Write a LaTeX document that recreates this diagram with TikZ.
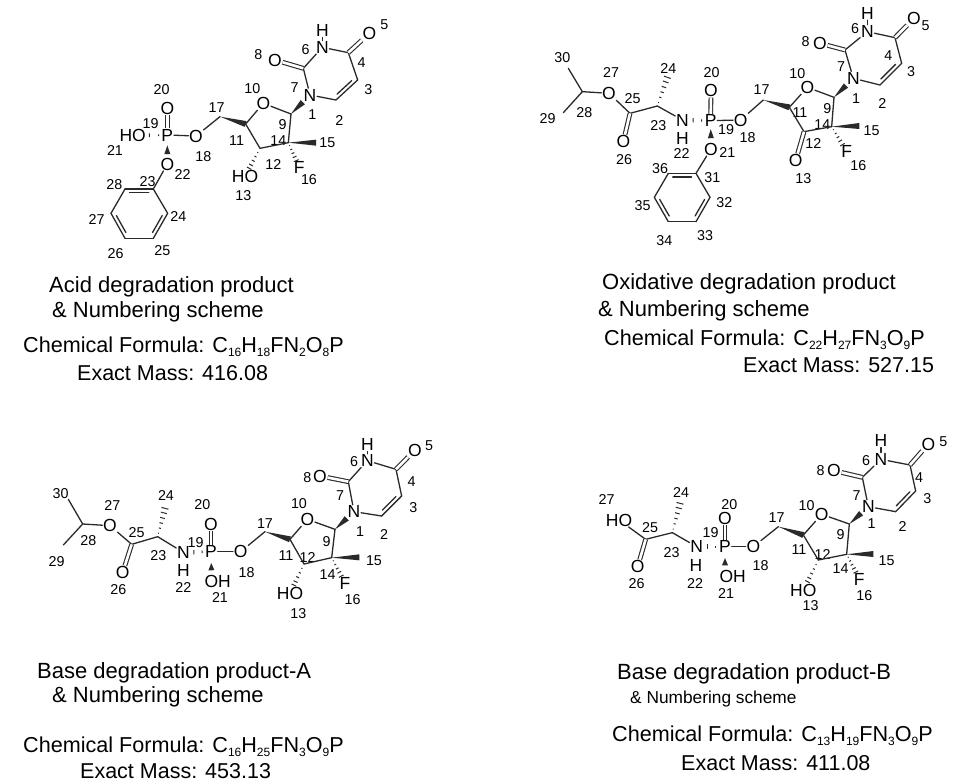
\documentclass[tikz,border=0pt]{standalone}
\usepackage{fontspec}
\setmainfont{Liberation Sans}
\usetikzlibrary{calc}
\definecolor{bondcol}{HTML}{2A2A2A}
\tikzset{
  zoomed/.style={x=0.33333pt,y=-0.33333pt},
  bond/.style={draw=bondcol,line width=1.3pt,line cap=round},
  dbl/.style={draw=bondcol,line width=1.1pt,double=white,double distance=2.6pt},
  atomlab/.style={inner sep=0.6pt,text=black,font=\fontsize{17.5}{18}\selectfont},
  numlab/.style={inner sep=0pt,text=black,font=\fontsize{14.3}{15}\selectfont},
  captext/.style={anchor=base west,inner sep=0pt,text=black,font=\fontsize{22}{24}\selectfont},
  capsmall/.style={anchor=base west,inner sep=0pt,text=black,font=\fontsize{17.3}{19}\selectfont},
  capform/.style={anchor=base west,inner sep=0pt,text=black,font=\fontsize{21.6}{24}\selectfont},
  capmass/.style={anchor=base west,inner sep=0pt,text=black,font=\fontsize{21.5}{24}\selectfont}
}
% solid wedge: tip at fraction #3 of a->b, wide end at fraction #4
\newcommand{\wdg}[4]{\fill[bondcol] ($(#1)!#3!(#2)$) -- ($(#1)!#4!(#2)!3pt!90:(#1)$) -- ($(#1)!#4!(#2)!3pt!-90:(#1)$) -- cycle;}
% hashed wedge: ticks at the fractions in #3, half width growing with the fraction
\newcommand{\hsh}[3]{\foreach \tf in {#3}{\pgfmathsetmacro{\hw}{3.6*\tf}
  \draw[draw=bondcol,line width=1pt] ($(#1)!\tf!(#2)!\hw pt!90:(#1)$) -- ($(#1)!\tf!(#2)!\hw pt!-90:(#1)$);}}
% inner line of a ring double bond
\newcommand{\inl}[2]{\draw[bond] ($(#1)!.16!(#2)!3.6pt!90:(#2)$) -- ($(#1)!.84!(#2)!3.6pt!90:(#2)$);}
\newcommand{\sbs}[1]{\raisebox{-4pt}{\fontsize{12}{12}\selectfont #1}}
\begin{document}
\begin{tikzpicture}[x=1pt,y=-1pt]
\useasboundingbox[fill=white] (0,0) rectangle (956,784);

%% ---------- Acid degradation product ----------
\begin{scope}[shift={(90,0)},zoomed]
\foreach \n/\px/\py in {C4/775/158,C3/803/240,C2/738/300,C7/640/205,C9/603/342,C11/467/372,C12/510/445,C14/595/428,Me/678/428,C17/390/350,C23/190/567,C24/233/640,C25/190/715,C26/105/715,C27/63/640,C28/105/567}
  \coordinate (a\n) at (\px,\py);
\foreach \n/\px/\py/\tx in {H/697/92/H,N6/697/142/N,O5/838/100/O,N1/660/285/N,O8/555/180/O,O10/520/310/O,F/628/503/F,OH/465/528/HO,O18/318/408/O,P/232/405/P,O20/232/325/O,HOp/128/407/HO,O22/232/492/O}
  \node[atomlab] (a\n) at (\px,\py) {\tx};
\foreach \tx/\px/\py in {5/883/75,6/647/150,8/505/165,4/815/188,3/835/268,7/614/262,10/487/265,1/667/345,2/748/363,9/578/375,17/380/322,20/215/270,19/182/372,21/75/452,18/340/470,11/440/422,14/565/422,15/712/427,12/550/493,16/657/540,13/460/587,22/278/525,23/173/545,28/73/555,27/20/660,24/265/650,26/77/760,25/217/753}
  \node[numlab] (an\tx) at (\px,\py) {\tx};
\foreach \p/\q in {aH/aN6,aN6/aC4,aN6/aC7,aC4/aC3,aC3/aC2,aC2/aN1,aN1/aC7,aC9/aO10,aO10/aC11,aC11/aC12,aC12/aC14,aC14/aC9,aC17/aO18,aO18/aP,aO22/aC23,aC23/aC24,aC24/aC25,aC25/aC26,aC26/aC27,aC27/aC28,aC28/aC23}
  \draw[bond] (\p) -- (\q);
\draw[dbl] (aC4) -- (aO5);
\draw[dbl] (aC7) -- (aO8);
\draw[dbl] (aP) -- (aO20);
\inl{aC2}{aC3}
\inl{aC23}{aC28}
\inl{aC27}{aC26}
\inl{aC25}{aC24}
\wdg{aC9}{aN1}{0}{0.62}
\wdg{aC17}{aC11}{0}{1}
\wdg{aC14}{aMe}{0}{1}
\wdg{aP}{aO22}{0.36}{0.66}
\hsh{aC12}{aOH}{0.15,0.3,0.45,0.6,0.72}
\hsh{aC14}{aF}{0.12,0.27,0.42,0.57,0.72}
\hsh{aP}{aHOp}{0.25,0.52}
\end{scope}

%% ---------- Oxidative degradation product ----------
\begin{scope}[shift={(530,0)},zoomed]
\foreach \n/\px/\py in {C4/1095/113,C3/1115/190,C2/1050/255,C7/945/150,C9/912/292,C11/778/322,C12/822/395,C14/905/380,Me/988/378,C17/700/300,C31/498/520,C32/540/592,C33/498/665,C34/415/665,C35/373/592,C36/415/520,C23/382/318,Me2/412/232,C25/300/340,C28/157/275,Me3/115/205,Me4/100/338}
  \coordinate (b\n) at (\px,\py);
\foreach \n/\px/\py/\tx in {H/1012/40/H,N6/1012/95/N,O5/1152/55/O,N1/970/235/N,O8/870/130/O,O10/832/262/O,F/950/455/F,O13/797/482/O,O18/632/360/O,P/542/362/P,O20/543/272/O,N22/457/360/N,H2/457/414/H,O21/543/447/O,O26/280/425/O,O27/237/280/O}
  \node[atomlab] (b\n) at (\px,\py) {\tx};
\foreach \tx/\px/\py in {5/1187/78,6/975/85,8/827/125,4/1075/168,3/1143/215,7/933/200,10/802/220,1/978/297,2/1057/310,9/892/327,17/695/270,20/545/218,19/588/388,18/653/412,11/810/337,14/877/375,15/1025/392,12/850/432,16/985/497,13/820/535,21/592/458,22/455/460,23/385/377,24/415/205,25/308/297,26/282/480,27/243/217,28/163/338,29/53/357,30/97/172,31/547/533,32/583/607,33/525/708,34/403/722,35/338/618,36/390/507}
  \node[numlab] (bn\tx) at (\px,\py) {\tx};
\foreach \p/\q in {bH/bN6,bN6/bC4,bN6/bC7,bC4/bC3,bC3/bC2,bC2/bN1,bN1/bC7,bC9/bO10,bO10/bC11,bC11/bC12,bC12/bC14,bC14/bC9,bC17/bO18,bO18/bP,bO21/bC31,bC31/bC32,bC32/bC33,bC33/bC34,bC34/bC35,bC35/bC36,bC36/bC31,bN22/bC23,bC23/bC25,bC25/bO27,bO27/bC28,bC28/bMe3,bC28/bMe4}
  \draw[bond] (\p) -- (\q);
\draw[dbl] (bC4) -- (bO5);
\draw[dbl] (bC7) -- (bO8);
\draw[dbl] (bP) -- (bO20);
\draw[dbl] (bC12) -- (bO13);
\draw[dbl] (bC25) -- (bO26);
\inl{bC2}{bC3}
\inl{bC31}{bC36}
\inl{bC35}{bC34}
\inl{bC33}{bC32}
\wdg{bC9}{bN1}{0}{0.62}
\wdg{bC17}{bC11}{0}{1}
\wdg{bC14}{bMe}{0}{1}
\wdg{bP}{bO21}{0.3}{0.62}
\hsh{bC14}{bF}{0.12,0.27,0.42,0.57,0.72}
\hsh{bC23}{bMe2}{0.12,0.3,0.48,0.66,0.84,1}
\hsh{bP}{bN22}{0.32,0.62}
\end{scope}

%% ---------- Base degradation product-A ----------
\begin{scope}[shift={(30,420)},zoomed]
\foreach \n/\px/\py in {C4/1098/148,C3/1115/228,C2/1055/288,C7/955/185,C9/915/328,C11/780/358,C12/822/432,C14/905/413,Me/988/412,C17/705/335,C23/383/350,Me2/405/265,C25/305/373,C28/158/312,Me3/115/238,Me4/100/375}
  \coordinate (c\n) at (\px,\py);
\foreach \n/\px/\py/\tx in {H/1012/74/H,N6/1012/122/N,O5/1155/90/O,N1/972/275/N,O8/870/168/O,O10/832/298/O,F/945/490/F,OH/780/520/HO,O18/632/395/O,P/543/395/P,O20/543/312/O,N22/460/397/N,H2/460/450/H,OH21/563/485/OH,O26/278/458/O,O27/240/317/O}
  \node[atomlab] (c\n) at (\px,\py) {\tx};
\foreach \tx/\px/\py in {5/1197/78,6/972/125,4/1145/185,8/832/172,3/1150/262,7/930/228,10/807/250,1/990/335,2/1062/345,9/890/365,17/705/310,20/517/253,19/497/367,18/650/457,11/768/408,12/833/412,14/893/465,15/1032/423,16/968/538,13/805/580,21/570/533,22/460/503,23/385/407,24/408/228,25/320/338,26/265/510,27/247/257,28/175/363,29/80/425,30/92/222}
  \node[numlab] (cn\tx) at (\px,\py) {\tx};
\foreach \p/\q in {cH/cN6,cN6/cC4,cN6/cC7,cC4/cC3,cC3/cC2,cC2/cN1,cN1/cC7,cC9/cO10,cO10/cC11,cC11/cC12,cC12/cC14,cC14/cC9,cC17/cO18,cO18/cP,cN22/cC23,cC23/cC25,cC25/cO27,cO27/cC28,cC28/cMe3,cC28/cMe4}
  \draw[bond] (\p) -- (\q);
\draw[dbl] (cC4) -- (cO5);
\draw[dbl] (cC7) -- (cO8);
\draw[dbl] (cP) -- (cO20);
\draw[dbl] (cC25) -- (cO26);
\inl{cC2}{cC3}
\wdg{cC9}{cN1}{0}{0.62}
\wdg{cC17}{cC11}{0}{1}
\wdg{cC14}{cMe}{0}{1}
\coordinate (cOHt) at (545,485);
\wdg{cP}{cOHt}{0.38}{0.62}
\hsh{cC12}{cOH}{0.15,0.3,0.45,0.6,0.72}
\hsh{cC14}{cF}{0.12,0.27,0.42,0.57,0.72}
\hsh{cC23}{cMe2}{0.12,0.3,0.48,0.66,0.84,1}
\hsh{cP}{cN22}{0.32,0.62}
\end{scope}

%% ---------- Base degradation product-B ----------
\begin{scope}[shift={(590,420)},zoomed]
\foreach \n/\px/\py in {C4/960/135,C3/977/213,C2/917/275,C7/817/172,C9/778/312,C11/640/345,C12/685/420,C14/770/403,Me/850/402,C17/565/320,C23/247/338,Me2/270/250,C25/167/358}
  \coordinate (d\n) at (\px,\py);
\foreach \n/\px/\py/\tx in {H/873/62/H,N6/873/118/N,O5/1015/72/O,N1/835/260/N,O8/732/152/O,O10/695/283/O,F/808/477/F,OH/640/510/HO,O18/490/380/O,P/405/380/P,O20/405/295/O,N22/320/380/N,H2/318/435/H,OH21/428/470/OH,O26/143/440/O,HOc/87/300/HO}
  \node[atomlab] (d\n) at (\px,\py) {\tx};
\foreach \tx/\px/\py in {5/1060/65,6/828/122,8/692/152,4/987/172,3/1012/237,7/800/228,10/650/257,1/845/312,2/938/320,9/752/345,17/560/292,20/418/253,19/362/338,18/512/437,11/627/390,12/698/405,14/752/445,15/890/422,16/823/527,13/662/558,21/408/520,22/315/492,23/245/398,24/273/217,25/180/322,26/140/492,27/50/238}
  \node[numlab] (dn\tx) at (\px,\py) {\tx};
\foreach \p/\q in {dH/dN6,dN6/dC4,dN6/dC7,dC4/dC3,dC3/dC2,dC2/dN1,dN1/dC7,dC9/dO10,dO10/dC11,dC11/dC12,dC12/dC14,dC14/dC9,dC17/dO18,dO18/dP,dN22/dC23,dC23/dC25,dC25/dHOc}
  \draw[bond] (\p) -- (\q);
\draw[dbl] (dC4) -- (dO5);
\draw[dbl] (dC7) -- (dO8);
\draw[dbl] (dP) -- (dO20);
\draw[dbl] (dC25) -- (dO26);
\inl{dC2}{dC3}
\wdg{dC9}{dN1}{0}{0.62}
\wdg{dC17}{dC11}{0}{1}
\wdg{dC14}{dMe}{0}{1}
\coordinate (dOHt) at (405,470);
\wdg{dP}{dOHt}{0.38}{0.62}
\hsh{dC12}{dOH}{0.15,0.3,0.45,0.6,0.72}
\hsh{dC14}{dF}{0.12,0.27,0.42,0.57,0.72}
\hsh{dC23}{dMe2}{0.12,0.3,0.48,0.66,0.84,1}
\hsh{dP}{dN22}{0.32,0.62}
\end{scope}

%% ---------- captions ----------
\node[captext] (t1a) at (49,292) {Acid degradation product};
\node[captext] (t1b) at (52,317) {\& Numbering scheme};
\node[capform] (t1c) at (23,352) {Chemical Formula: C\sbs{16}H\sbs{18}FN\sbs{2}O\sbs{8}P};
\node[capmass] (t1d) at (77,380) {Exact Mass: 416.08};
\node[captext] (t2a) at (602,289) {Oxidative degradation product};
\node[captext] (t2b) at (598,316) {\& Numbering scheme};
\node[capform] (t2c) at (604,345) {Chemical Formula: C\sbs{22}H\sbs{27}FN\sbs{3}O\sbs{9}P};
\node[capmass] (t2d) at (743,372) {Exact Mass: 527.15};
\node[captext] (t3a) at (37,678) {Base degradation product-A};
\node[captext] (t3b) at (52,702) {\& Numbering scheme};
\node[capform] (t3c) at (23,752) {Chemical Formula: C\sbs{16}H\sbs{25}FN\sbs{3}O\sbs{9}P};
\node[capmass] (t3d) at (80,778) {Exact Mass: 453.13};
\node[captext] (t4a) at (617,679) {Base degradation product-B};
\node[capsmall] (t4b) at (630,703) {\& Numbering scheme};
\node[capform] (t4c) at (612,741) {Chemical Formula: C\sbs{13}H\sbs{19}FN\sbs{3}O\sbs{9}P};
\node[capmass] (t4d) at (681,770) {Exact Mass: 411.08};
\end{tikzpicture}
\end{document}
